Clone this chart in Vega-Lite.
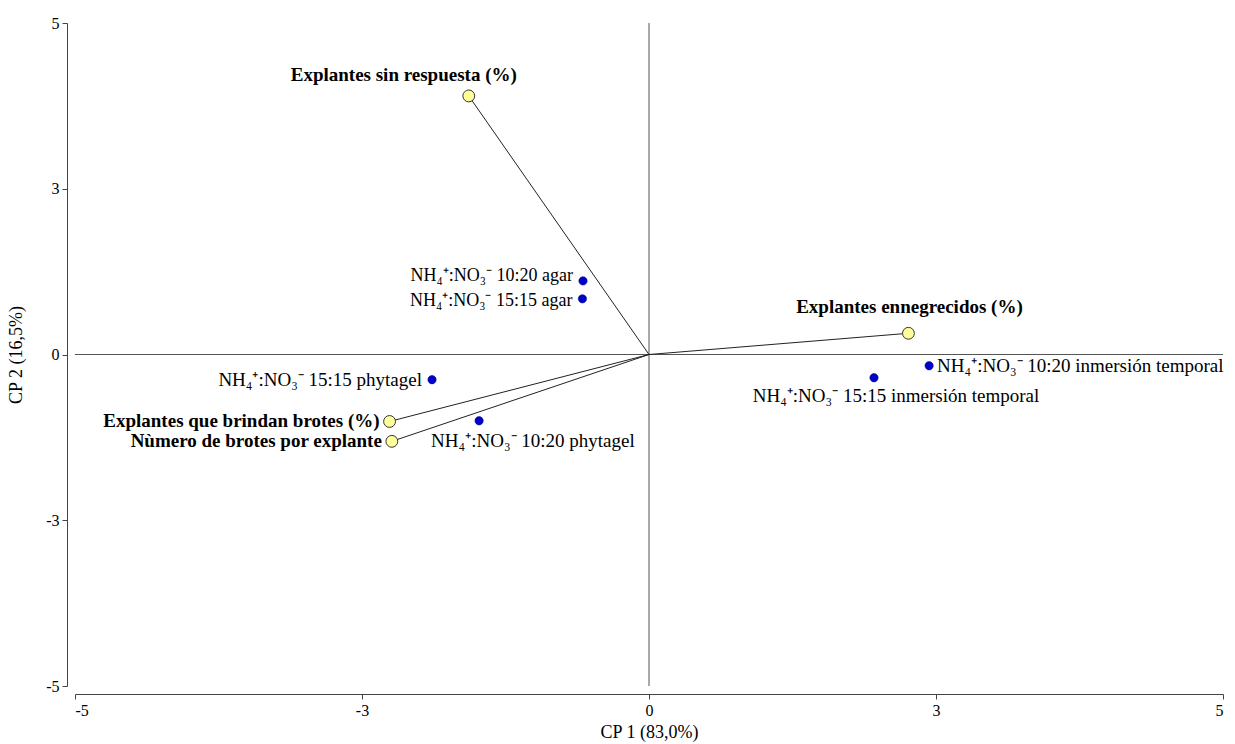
{
  "$schema": "https://vega.github.io/schema/vega-lite/v6.json",
  "width": 1148,
  "height": 663,
  "autosize": {"type": "none"},
  "padding": {"left": 75, "top": 23, "right": 12, "bottom": 58},
  "background": "white",
  "config": {
    "view": {"stroke": null},
    "font": "Liberation Serif",
    "axis": {"grid": false, "domainColor": "#444444", "tickColor": "#444444", "tickSize": 5, "labelFont": "Liberation Serif", "labelFontSize": 16, "labelColor": "#000000", "labelPadding": 3, "titleFont": "Liberation Serif", "titleFontSize": 18, "titleFontWeight": "normal", "titleColor": "#000000", "offset": 8}
  },
  "datasets": {
    "vars": [
      {"name": "Explantes sin respuesta (%)", "x": -1.57, "y": 3.9},
      {"name": "Explantes ennegrecidos (%)", "x": 2.26, "y": 0.32},
      {"name": "Explantes que brindan brotes (%)", "x": -2.26, "y": -1.01},
      {"name": "Nùmero de brotes por explante", "x": -2.24, "y": -1.31}
    ],
    "obs": [
      {"name": "NH₄⁺:NO₃⁻ 10:20 agar", "x": -0.575, "y": 1.11},
      {"name": "NH₄⁺:NO₃⁻ 15:15 agar", "x": -0.58, "y": 0.84},
      {"name": "NH₄⁺:NO₃⁻ 15:15 phytagel", "x": -1.89, "y": -0.38},
      {"name": "NH₄⁺:NO₃⁻ 10:20 phytagel", "x": -1.48, "y": -1.0},
      {"name": "NH₄⁺:NO₃⁻ 15:15 inmersión temporal", "x": 1.96, "y": -0.35},
      {"name": "NH₄⁺:NO₃⁻ 10:20 inmersión temporal", "x": 2.44, "y": -0.17}
    ],
    "zero": [{"v": 0}]
  },
  "encoding": {
    "x": {"field": "x", "type": "quantitative", "scale": {"domain": [-5, 5], "nice": false, "zero": false},
      "axis": {"values": [-5, -2.5, 0, 2.5, 5], "title": "CP 1 (83,0%)", "titlePadding": 5,
        "labelExpr": "datum.value == -5 ? '-5' : datum.value == -2.5 ? '-3' : datum.value == 0 ? '0' : datum.value == 2.5 ? '3' : '5'"}},
    "y": {"field": "y", "type": "quantitative", "scale": {"domain": [-5, 5], "nice": false, "zero": false},
      "axis": {"values": [-5, -2.5, 0, 2.5, 5], "title": "CP 2 (16,5%)", "titlePadding": 20,
        "labelExpr": "datum.value == -5 ? '-5' : datum.value == -2.5 ? '-3' : datum.value == 0 ? '0' : datum.value == 2.5 ? '3' : '5'"}}
  },
  "layer": [
    {"data": {"name": "zero"}, "mark": {"type": "rule", "color": "#555555", "strokeWidth": 1},
     "encoding": {"x": {"field": "v", "type": "quantitative"}, "y": null}},
    {"data": {"name": "zero"}, "mark": {"type": "rule", "color": "#555555", "strokeWidth": 1},
     "encoding": {"y": {"field": "v", "type": "quantitative"}, "x": null}},
    {"data": {"name": "vars"}, "mark": {"type": "rule", "color": "#222222", "strokeWidth": 1},
     "encoding": {"x": {"datum": 0}, "y": {"datum": 0}, "x2": {"field": "x"}, "y2": {"field": "y"}}},
    {"data": {"name": "vars"}, "mark": {"type": "point", "filled": true, "fill": "#FFFF99", "stroke": "#333333", "strokeWidth": 1, "size": 140, "opacity": 1}},
    {"data": {"name": "obs"}, "mark": {"type": "point", "filled": true, "fill": "#0000CC", "stroke": "#000066", "strokeWidth": 0.5, "size": 70, "opacity": 1}},
    {"data": {"name": "vars"}, "transform": [{"filter": {"field": "name", "oneOf": ["Explantes que brindan brotes (%)", "Nùmero de brotes por explante"]}}],
     "mark": {"type": "text", "align": "right", "baseline": "middle", "dx": -10, "dy": 0, "fontSize": 19, "fontWeight": "bold"},
     "encoding": {"text": {"field": "name"}}},
    {"data": {"name": "vars"}, "transform": [{"filter": {"field": "name", "equal": "Explantes sin respuesta (%)"}}],
     "mark": {"type": "text", "align": "center", "baseline": "middle", "dx": -65, "dy": -21, "fontSize": 19, "fontWeight": "bold"},
     "encoding": {"text": {"field": "name"}}},
    {"data": {"name": "vars"}, "transform": [{"filter": {"field": "name", "equal": "Explantes ennegrecidos (%)"}}],
     "mark": {"type": "text", "align": "center", "baseline": "middle", "dx": 1, "dy": -26, "fontSize": 19, "fontWeight": "bold"},
     "encoding": {"text": {"field": "name"}}},
    {"data": {"name": "obs"}, "transform": [{"filter": {"field": "name", "equal": "NH₄⁺:NO₃⁻ 10:20 agar"}}],
     "mark": {"type": "text", "align": "right", "baseline": "middle", "dx": -10, "dy": -5, "fontSize": 18},
     "encoding": {"text": {"field": "name"}}},
    {"data": {"name": "obs"}, "transform": [{"filter": {"field": "name", "equal": "NH₄⁺:NO₃⁻ 15:15 agar"}}],
     "mark": {"type": "text", "align": "right", "baseline": "middle", "dx": -10, "dy": 2, "fontSize": 18},
     "encoding": {"text": {"field": "name"}}},
    {"data": {"name": "obs"}, "transform": [{"filter": {"field": "name", "equal": "NH₄⁺:NO₃⁻ 15:15 phytagel"}}],
     "mark": {"type": "text", "align": "right", "baseline": "middle", "dx": -10, "dy": 0, "fontSize": 19},
     "encoding": {"text": {"field": "name"}}},
    {"data": {"name": "obs"}, "transform": [{"filter": {"field": "name", "equal": "NH₄⁺:NO₃⁻ 10:20 phytagel"}}],
     "mark": {"type": "text", "align": "left", "baseline": "middle", "dx": -48, "dy": 20, "fontSize": 19},
     "encoding": {"text": {"field": "name"}}},
    {"data": {"name": "obs"}, "transform": [{"filter": {"field": "name", "equal": "NH₄⁺:NO₃⁻ 10:20 inmersión temporal"}}],
     "mark": {"type": "text", "align": "left", "baseline": "middle", "dx": 8, "dy": 0, "fontSize": 19},
     "encoding": {"text": {"field": "name"}}},
    {"data": {"name": "obs"}, "transform": [{"filter": {"field": "name", "equal": "NH₄⁺:NO₃⁻ 15:15 inmersión temporal"}}],
     "mark": {"type": "text", "align": "center", "baseline": "middle", "dx": 22, "dy": 18, "fontSize": 19},
     "encoding": {"text": {"field": "name"}}}
  ]
}
